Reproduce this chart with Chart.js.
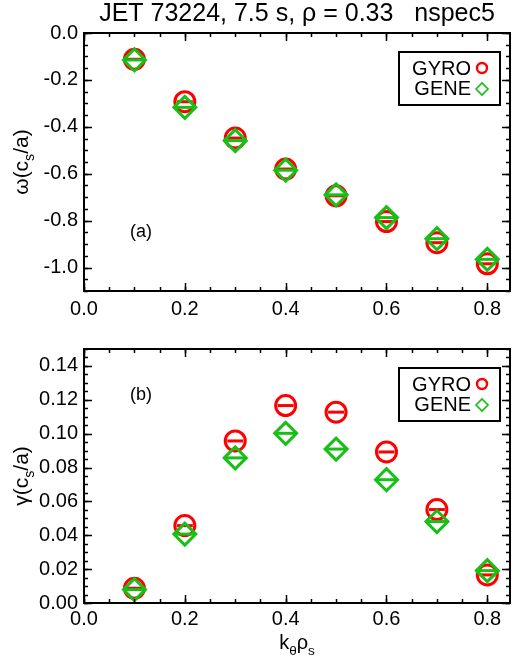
<!DOCTYPE html>
<html>
<head>
<meta charset="utf-8">
<title>JET 73224 linear growth rates</title>
<script src="https://cdn.jsdelivr.net/npm/chart.js@4.4.1/dist/chart.umd.min.js"></script>
<style>
  html, body { margin: 0; padding: 0; background: #fff; }
  #wrap { position: relative; width: 524px; height: 662px; }
  #wrap canvas { position: absolute; left: 0; }
  #omegaChart { top: 0; }
  #gammaChart { top: 331px; }
</style>
</head>
<body>
<div id="wrap">
  <canvas id="omegaChart" width="524" height="331"></canvas>
  <canvas id="gammaChart" width="524" height="331"></canvas>
</div>
<script>
// k_theta rho_s scan
const kTheta = [0.1, 0.2, 0.3, 0.4, 0.5, 0.6, 0.7, 0.8];

// real frequency, omega (c_s/a)
const omegaGyro = [-0.112, -0.293, -0.448, -0.580, -0.694, -0.804, -0.894, -0.984];
const omegaGene = [-0.115, -0.317, -0.459, -0.585, -0.690, -0.787, -0.877, -0.965];

// growth rate, gamma (c_s/a)
const gammaGyro = [0.0087, 0.0457, 0.0957, 0.1166, 0.1127, 0.0892, 0.0552, 0.0166];
const gammaGene = [0.0079, 0.0407, 0.0857, 0.1002, 0.0909, 0.0728, 0.0481, 0.0191];

// axis ticks
const kTicks = [0.0, 0.2, 0.4, 0.6, 0.8];
const omegaTicks = [0.0, -0.2, -0.4, -0.6, -0.8, -1.0];
const gammaTicks = [0.00, 0.02, 0.04, 0.06, 0.08, 0.10, 0.12, 0.14];

const RED = '#ff0000';
const GREEN = '#17c017';
const FONT = "'Liberation Sans', Arial, Helvetica, sans-serif";

const pts = ys => kTheta.map((k, i) => ({ x: k, y: ys[i] }));

// each code: open marker plus a short horizontal bar through it
function codeSets(gyro, gene) {
    return [
        { label: 'GYRO', data: pts(gyro), pointStyle: 'circle', pointRadius: 10,
          borderColor: RED, backgroundColor: 'transparent', pointBorderWidth: 3, order: 3,
          keyRadius: 5, keyWidth: 2.4 },
        { label: '', data: pts(gyro), pointStyle: 'line', pointRadius: 8,
          borderColor: RED, pointBorderWidth: 3, order: 2 },
        { label: 'GENE', data: pts(gene), pointStyle: 'rectRot', pointRadius: 11,
          borderColor: GREEN, backgroundColor: 'transparent', pointBorderWidth: 3, order: 1,
          keyRadius: 6, keyWidth: 1.7 },
        { label: '', data: pts(gene), pointStyle: 'line', pointRadius: 11,
          borderColor: GREEN, pointBorderWidth: 3, order: 0 }
    ];
}

// text with subscripts, centred on x, baseline at y
function drawRich(ctx, parts, x, y, size) {
    let total = 0;
    parts.forEach(p => {
        ctx.font = (p.sub ? size * 0.68 : size) + 'px ' + FONT;
        p.w = ctx.measureText(p.t).width;
        total += p.w;
    });
    let cx = x - total / 2;
    ctx.textAlign = 'left';
    ctx.textBaseline = 'alphabetic';
    parts.forEach(p => {
        ctx.font = (p.sub ? size * 0.68 : size) + 'px ' + FONT;
        ctx.fillText(p.t, cx, p.sub ? y + size * 0.3 : y);
        cx += p.w;
    });
}

// box with inward ticks on all four sides
const idlFrame = {
    id: 'idlFrame',
    afterDraw(chart, args, opts) {
        const { ctx, chartArea: a, scales } = chart;
        ctx.save();
        ctx.strokeStyle = '#000';
        ctx.lineWidth = 1.5;
        [[scales.x, opts.xMinor], [scales.y, opts.yMinor]].forEach(([scale, step]) => {
            const marks = [];
            for (let i = Math.ceil(scale.min / step - 1e-6); i * step <= scale.max + 1e-6; i++) {
                marks.push([i * step, 4]);
            }
            scale.ticks.forEach(t => marks.push([t.value, 8]));
            marks.forEach(([v, len]) => {
                const p = Math.round(scale.getPixelForValue(v)) + 0.5;
                ctx.beginPath();
                if (scale.isHorizontal()) {
                    ctx.moveTo(p, a.bottom); ctx.lineTo(p, a.bottom - len);
                    ctx.moveTo(p, a.top); ctx.lineTo(p, a.top + len);
                } else {
                    ctx.moveTo(a.left, p); ctx.lineTo(a.left + len, p);
                    ctx.moveTo(a.right, p); ctx.lineTo(a.right - len, p);
                }
                ctx.stroke();
            });
        });
        ctx.lineWidth = 2;
        ctx.strokeRect(a.left, a.top, a.width, a.height);
        ctx.restore();
    }
};

// panel tag, axis titles and the boxed key
const panelText = {
    id: 'panelText',
    afterDraw(chart, args, opts) {
        const { ctx, chartArea: a } = chart;
        ctx.save();
        ctx.fillStyle = '#000';

        ctx.font = '18px ' + FONT;
        ctx.textAlign = 'center';
        ctx.textBaseline = 'middle';
        ctx.fillText(opts.tag, a.left + opts.tagX, a.top + opts.tagY);

        ctx.save();
        ctx.translate(21, (a.top + a.bottom) / 2);
        ctx.rotate(-Math.PI / 2);
        drawRich(ctx, opts.yTitle, 0, 7, 21);
        ctx.restore();

        if (opts.xTitle) drawRich(ctx, opts.xTitle, (a.left + a.right) / 2, chart.height - 13, 20);

        // key
        const bw = 101, bh = 53;
        const x0 = a.right - 10 - bw, y0 = a.top + 19;
        ctx.fillStyle = '#fff';
        ctx.fillRect(x0, y0, bw, bh);
        ctx.strokeStyle = '#000';
        ctx.lineWidth = 2;
        ctx.strokeRect(x0, y0, bw, bh);
        chart.data.datasets.filter(d => d.label).forEach((d, i) => {
            ctx.fillStyle = '#000';
            ctx.font = '20px ' + FONT;
            ctx.textAlign = 'right';
            ctx.textBaseline = 'alphabetic';
            ctx.fillText(d.label, x0 + 72, y0 + 23 + i * 20);
            const mx = x0 + 83, my = y0 + 16 + i * 21, r = d.keyRadius;
            ctx.strokeStyle = d.borderColor;
            ctx.lineWidth = d.keyWidth;
            ctx.beginPath();
            if (d.pointStyle === 'circle') {
                ctx.arc(mx, my, r, 0, Math.PI * 2);
            } else {
                ctx.moveTo(mx - r, my); ctx.lineTo(mx, my - r);
                ctx.lineTo(mx + r, my); ctx.lineTo(mx, my + r);
                ctx.closePath();
            }
            ctx.stroke();
        });
        ctx.restore();
    }
};

const tickFont = { family: FONT, size: 20 };

function panelOptions(cfg) {
    return {
        responsive: false,
        animation: false,
        events: [],
        layout: { padding: { left: 0, right: 4, top: cfg.padTop, bottom: 0 } },
        plugins: {
            legend: { display: false },
            tooltip: { enabled: false },
            title: cfg.title ? {
                display: true, text: cfg.title, fullSize: false, color: '#000',
                font: { family: FONT, size: 25, weight: 'normal', lineHeight: 1 },
                padding: { top: 2, bottom: 6 }
            } : { display: false },
            idlFrame: { xMinor: 0.05, yMinor: cfg.yMinor },
            panelText: { tag: cfg.tag, tagX: 57, tagY: cfg.tagY, yTitle: cfg.yTitle, xTitle: cfg.xTitle }
        },
        scales: {
            x: {
                type: 'linear', min: 0, max: 0.845,
                grid: { display: false, drawTicks: false }, border: { display: false },
                afterBuildTicks: s => { s.ticks = kTicks.map(v => ({ value: v })); },
                afterFit: s => { s.height = cfg.xHeight; },
                ticks: { font: tickFont, color: '#000', padding: cfg.xPad, maxRotation: 0,
                         callback: v => v.toFixed(1) }
            },
            y: {
                type: 'linear', min: cfg.yMin, max: cfg.yMax,
                grid: { display: false, drawTicks: false }, border: { display: false },
                afterBuildTicks: s => { s.ticks = cfg.yTicks.map(v => ({ value: v })); },
                afterFit: s => { s.width = 84; },
                ticks: { font: tickFont, color: '#000', padding: 6,
                         callback: v => v.toFixed(cfg.digits) }
            }
        }
    };
}

new Chart(document.getElementById('omegaChart'), {
    type: 'scatter',
    data: { datasets: codeSets(omegaGyro, omegaGene) },
    options: panelOptions({
        title: 'JET 73224, 7.5 s, \u03c1 = 0.33   nspec5',
        padTop: 0, xHeight: 40, xPad: 6,
        yMin: -1.1, yMax: 0, yTicks: omegaTicks, yMinor: 0.05, digits: 1,
        tag: '(a)', tagY: 199,
        yTitle: [{ t: '\u03c9(c' }, { t: 's', sub: true }, { t: '/a)' }]
    }),
    plugins: [idlFrame, panelText]
});

new Chart(document.getElementById('gammaChart'), {
    type: 'scatter',
    data: { datasets: codeSets(gammaGyro, gammaGene) },
    options: panelOptions({
        padTop: 13, xHeight: 59, xPad: 4,
        yMin: 0, yMax: 0.15, yTicks: gammaTicks, yMinor: 0.005, digits: 2,
        tag: '(b)', tagY: 46,
        yTitle: [{ t: '\u03b3(c' }, { t: 's', sub: true }, { t: '/a)' }],
        xTitle: [{ t: 'k' }, { t: '\u03b8', sub: true }, { t: '\u03c1' }, { t: 's', sub: true }]
    }),
    plugins: [idlFrame, panelText]
});
</script>
</body>
</html>
